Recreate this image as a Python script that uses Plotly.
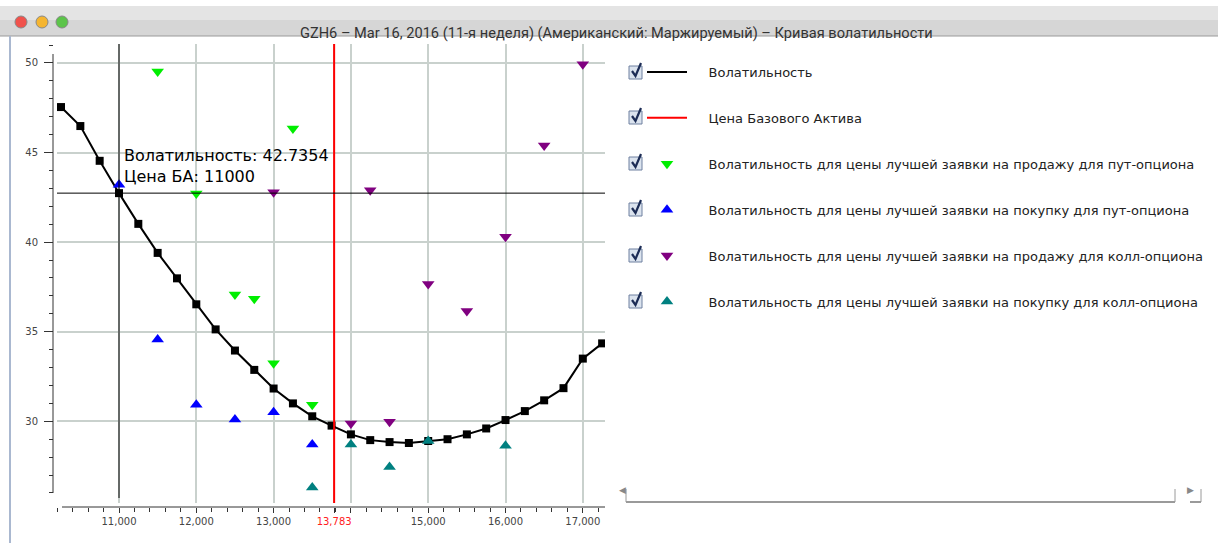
import plotly.graph_objects as go

W, H = 1218, 543

# данные
strikes = [10250, 10500, 10750, 11000, 11250, 11500, 11750, 12000, 12250, 12500,
           12750, 13000, 13250, 13500, 13750, 14000, 14250, 14500, 14750, 15000,
           15250, 15500, 15750, 16000, 16250, 16500, 16750, 17000, 17250]
volatility = [47.54, 46.48, 44.54, 42.7354, 41.02, 39.4, 37.98, 36.53, 35.13, 33.95,
              32.87, 31.83, 31.0, 30.28, 29.76, 29.27, 28.95, 28.84, 28.79, 28.9,
              29.0, 29.27, 29.6, 30.07, 30.57, 31.17, 31.85, 33.5, 34.35]

put_ask_x = [11500, 12000, 12500, 12750, 13000, 13250, 13500]
put_ask_y = [49.52, 42.72, 37.08, 36.84, 33.24, 46.35, 30.92]

put_bid_x = [11000, 11500, 12000, 12500, 13000, 13500]
put_bid_y = [43.2, 34.57, 30.92, 30.1, 30.5, 28.7]

call_ask_x = [13000, 14000, 14250, 14500, 15000, 15500, 16000, 16500, 17000]
call_ask_y = [42.78, 29.88, 42.9, 29.98, 37.66, 36.16, 40.3, 45.4, 49.93]

call_bid_x = [13500, 14000, 14500, 15000, 16000]
call_bid_y = [26.3, 28.7, 27.45, 28.9, 28.63]

base_price = 13783
cross_x = 11000
cross_y = 42.7354

x_ticks = [11000, 12000, 13000, 13783, 14000, 15000, 16000, 17000]
x_ticktext = ["11,000", "12,000", "13,000", "<span style='color:#ff2020'>13,783</span>", "",
              "15,000", "16,000", "17,000"]
y_ticks = [30, 35, 40, 45, 50]

X_MIN, X_MAX = 10198, 17287
Y_MIN, Y_MAX = 25.44, 51.06

names = ["Волатильность",
         "Цена Базового Актива",
         "Волатильность для цены лучшей заявки на продажу для пут-опциона",
         "Волатильность для цены лучшей заявки на покупку для пут-опциона",
         "Волатильность для цены лучшей заявки на продажу для колл-опциона",
         "Волатильность для цены лучшей заявки на покупку для колл-опциона"]
pad = "\u00a0" * 4


def px(x):
    return x / W


def py(y):
    return 1 - y / H


fig = go.Figure()

# кривая: линия в легенде, квадраты отдельно
fig.add_trace(go.Scatter(x=strikes, y=volatility, mode="lines", name=pad + names[0],
                         line=dict(color="black", width=2), legendgroup="a"))
fig.add_trace(go.Scatter(x=strikes, y=volatility, mode="markers", showlegend=False,
                         marker=dict(symbol="square", size=8, color="black"),
                         legendgroup="a"))
fig.add_trace(go.Scatter(x=[base_price, base_price], y=[Y_MIN, Y_MAX], mode="lines",
                         name=pad + names[1], line=dict(color="#ff0000", width=2),
                         legendgroup="b"))
fig.add_trace(go.Scatter(x=put_ask_x, y=put_ask_y, mode="markers", name=pad + names[2],
                         marker=dict(symbol="triangle-down", size=11, color="#00ee00"),
                         legendgroup="c"))
fig.add_trace(go.Scatter(x=put_bid_x, y=put_bid_y, mode="markers", name=pad + names[3],
                         marker=dict(symbol="triangle-up", size=11, color="#0000ff"),
                         legendgroup="d"))
fig.add_trace(go.Scatter(x=call_ask_x, y=call_ask_y, mode="markers", name=pad + names[4],
                         marker=dict(symbol="triangle-down", size=11, color="#800080"),
                         legendgroup="e"))
fig.add_trace(go.Scatter(x=call_bid_x, y=call_bid_y, mode="markers", name=pad + names[5],
                         marker=dict(symbol="triangle-up", size=11, color="#008080"),
                         legendgroup="f"))

shapes = []
# заголовок окна
shapes.append(dict(type="rect", xref="paper", yref="paper", x0=0, x1=1, y0=py(36), y1=py(6),
                   fillcolor="#d6d6d6", line=dict(width=0), layer="below"))
shapes.append(dict(type="rect", xref="paper", yref="paper", x0=0, x1=1, y0=py(20), y1=py(6),
                   fillcolor="#e4e4e4", line=dict(width=0), layer="below"))
shapes.append(dict(type="line", xref="paper", yref="paper", x0=0, x1=1, y0=py(36), y1=py(36),
                   line=dict(color="#9a9a9a", width=1)))
shapes.append(dict(type="line", xref="paper", yref="paper", x0=px(10), x1=px(10), y0=0, y1=py(36),
                   line=dict(color="#aab8d0", width=2)))
for cx, col in [(21, "#f0524c"), (42, "#f5b530"), (62, "#5cc44a")]:
    shapes.append(dict(type="circle", xref="paper", yref="paper",
                       x0=px(cx - 6), x1=px(cx + 6), y0=py(28), y1=py(16),
                       fillcolor=col, line=dict(color="#888", width=1)))

# оси
shapes.append(dict(type="line", xref="paper", yref="paper", x0=px(53), x1=px(53), y0=py(493), y1=py(54),
                   line=dict(color="#333", width=1)))
shapes.append(dict(type="line", xref="paper", yref="paper", x0=px(62), x1=px(605), y0=py(507), y1=py(507),
                   line=dict(color="#333", width=1)))

# перекрестие
shapes.append(dict(type="line", xref="x", yref="paper", x0=cross_x, x1=cross_x, y0=py(498), y1=py(44),
                   line=dict(color="black", width=1)))
shapes.append(dict(type="line", xref="x domain", yref="y", x0=0, x1=1, y0=cross_y, y1=cross_y,
                   line=dict(color="black", width=1)))

# флажки легенды
rows = [72, 117, 163, 209, 255, 301]
for r in rows:
    shapes.append(dict(type="rect", xref="paper", yref="paper",
                       x0=px(629), x1=px(642), y0=py(r + 7), y1=py(r - 6),
                       fillcolor="#dbe3ee", line=dict(color="#6e80a0", width=1)))
    path = "M %f,%f L %f,%f L %f,%f" % (px(632), py(r - 1), px(635.5), py(r + 4),
                                        px(641), py(r - 9))
    shapes.append(dict(type="path", xref="paper", yref="paper", path=path,
                       line=dict(color="#1c2c55", width=2.2)))

# полоса прокрутки
shapes.append(dict(type="line", xref="paper", yref="paper", x0=px(626), x1=px(1175), y0=py(502), y1=py(502),
                   line=dict(color="#9a9a9a", width=2)))
shapes.append(dict(type="line", xref="paper", yref="paper", x0=px(626), x1=px(626), y0=py(502), y1=py(489),
                   line=dict(color="#9a9a9a", width=1)))
shapes.append(dict(type="line", xref="paper", yref="paper", x0=px(1175), x1=px(1175), y0=py(502), y1=py(489),
                   line=dict(color="#9a9a9a", width=1)))
shapes.append(dict(type="line", xref="paper", yref="paper", x0=px(1201), x1=px(1201), y0=py(502), y1=py(489),
                   line=dict(color="#9a9a9a", width=1)))
shapes.append(dict(type="line", xref="paper", yref="paper", x0=px(1190), x1=px(1201), y0=py(502), y1=py(502),
                   line=dict(color="#9a9a9a", width=2)))

annotations = []
annotations.append(dict(xref="paper", yref="paper", x=px(616), y=py(22), showarrow=False,
                        text="GZH6 – Mar 16, 2016 (11-я неделя) (Американский: Маржируемый) – Кривая волатильности",
                        font=dict(family="Roboto", size=14.6, color="#333")))
annotations.append(dict(xref="x", yref="y", x=cross_x, y=cross_y, xanchor="left", yanchor="bottom",
                        xshift=3, yshift=5, showarrow=False, align="left",
                        text="Волатильность: 42.7354<br>Цена БА: 11000",
                        font=dict(family="DejaVu Sans", size=16, color="black")))
annotations.append(dict(xref="paper", yref="paper", x=px(622), y=py(497), showarrow=False,
                        text="◀", font=dict(size=9, color="#888")))
annotations.append(dict(xref="paper", yref="paper", x=px(1196), y=py(497), showarrow=False,
                        text="▶", font=dict(size=9, color="#888")))

fig.update_layout(
    width=W, height=H,
    margin=dict(l=0, r=0, t=0, b=0),
    paper_bgcolor="white", plot_bgcolor="white",
    font=dict(family="DejaVu Sans", color="#444"),
    shapes=shapes, annotations=annotations,
    showlegend=True,
    legend=dict(x=px(642), y=py(57), xanchor="left", yanchor="top",
                font=dict(family="DejaVu Sans", size=13, color="#222"),
                tracegroupgap=26, itemwidth=40, bgcolor="rgba(0,0,0,0)"),
    xaxis=dict(domain=[px(57), px(605)], range=[X_MIN, X_MAX],
               anchor="free", position=py(507),
               tickvals=x_ticks, ticktext=x_ticktext,
               showgrid=True, gridcolor="#c9d1cd", gridwidth=1.5,
               showline=False, zeroline=False,
               ticks="outside", ticklen=5, tickcolor="#333",
               minor=dict(dtick=200, ticks="outside", ticklen=4, tickcolor="#333", showgrid=False),
               tickfont=dict(size=10, color="#444")),
    yaxis=dict(domain=[py(503), py(44)], range=[Y_MIN, Y_MAX],
               anchor="free", position=px(53),
               tickvals=y_ticks, ticklabelstandoff=4,
               showgrid=True, gridcolor="#c9d1cd", gridwidth=1.5,
               showline=False, zeroline=False,
               ticks="outside", ticklen=9, tickcolor="#333",
               minor=dict(dtick=1, ticks="outside", ticklen=4, tickcolor="#333", showgrid=False),
               tickfont=dict(size=10, color="#444")),
)

fig.write_html("out.html", config={"displayModeBar": False},
               post_script="document.body.style.margin='0';")
